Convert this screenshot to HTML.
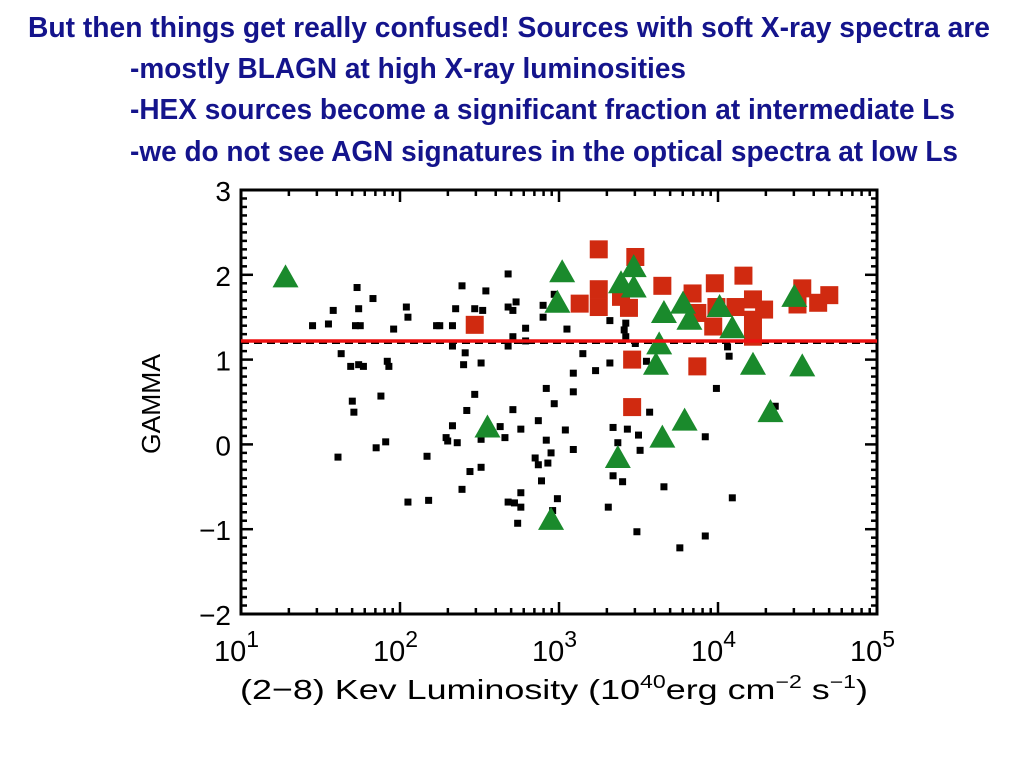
<!DOCTYPE html>
<html><head><meta charset="utf-8">
<style>
html,body{margin:0;padding:0;background:#fff;}
svg{display:block;}
</style></head>
<body>
<svg id="chart" width="1024" height="768" viewBox="0 0 1024 768" xmlns="http://www.w3.org/2000/svg">
  <g fill="#14148c" font-family="'Liberation Sans', Arial, sans-serif" font-weight="bold" font-size="29">
    <text x="28" y="37" textLength="962" lengthAdjust="spacingAndGlyphs">But then things get really confused!  Sources with soft X-ray spectra are</text>
    <text x="130" y="78" textLength="556" lengthAdjust="spacingAndGlyphs">-mostly BLAGN at high X-ray luminosities</text>
    <text x="130" y="119" textLength="825" lengthAdjust="spacingAndGlyphs">-HEX sources become a significant fraction at intermediate Ls</text>
    <text x="130" y="161" textLength="828" lengthAdjust="spacingAndGlyphs">-we do not see AGN signatures in the optical spectra at low Ls</text>
  </g>
  <g id="axes"></g>
  <g id="marks"></g>
  <text transform="translate(160,404) rotate(-90)" text-anchor="middle" font-family="'Liberation Sans', sans-serif" font-size="26" fill="#000" textLength="100" lengthAdjust="spacingAndGlyphs">GAMMA</text>
  <text x="240" y="699" font-family="'Liberation Sans', sans-serif" font-size="28" fill="#000" textLength="628" lengthAdjust="spacingAndGlyphs">(2−8) Kev Luminosity (10<tspan dy="-11" font-size="18">40</tspan><tspan dy="11">erg cm</tspan><tspan dy="-11" font-size="18">−2</tspan><tspan dy="11"> s</tspan><tspan dy="-11" font-size="18">−1</tspan><tspan dy="11">)</tspan></text>
</svg>
<script>
// data: log10 luminosity and gamma
const blackL = [1.73,1.83,1.58,1.74,1.45,1.55,1.72,1.75,1.96,2.04,2.05,2.39,2.54,2.68,2.35,2.47,2.52,2.23,2.25,2.33,2.68,2.73,2.71,2.90,2.90,2.79,2.71,2.79,2.68,2.33,1.63,1.69,1.74,1.77,1.92,1.93,2.41,2.40,2.51,2.92,2.97,2.47,2.42,2.71,2.33,2.63,2.76,2.87,3.04,1.70,1.71,1.88,2.29,2.30,2.36,2.51,2.66,2.92,1.91,1.85,1.61,2.17,2.85,2.87,2.93,2.95,2.89,2.51,2.44,2.39,2.76,2.05,2.18,2.68,2.72,2.76,2.99,2.74,2.96,2.97,3.05,3.32,3.42,3.41,3.42,3.48,3.15,3.32,3.23,3.09,3.09,3.55,3.99,4.07,4.06,3.57,3.34,3.43,3.50,3.37,3.51,3.09,3.92,3.34,3.40,3.66,4.09,3.31,3.49,3.76,3.92,4.36];
const blackG = [1.85,1.72,1.58,1.60,1.40,1.42,1.40,1.40,1.36,1.62,1.50,1.87,1.81,2.01,1.60,1.60,1.58,1.40,1.40,1.40,1.62,1.68,1.58,1.64,1.50,1.37,1.27,1.22,1.16,1.16,1.07,0.92,0.94,0.92,0.98,0.92,1.08,0.94,0.96,0.66,0.48,0.59,0.40,0.41,0.22,0.21,0.18,0.28,0.17,0.51,0.38,0.57,0.08,0.04,0.02,0.06,0.08,0.05,0.03,-0.04,-0.15,-0.14,-0.16,-0.24,-0.22,-0.10,-0.43,-0.27,-0.32,-0.53,-0.57,-0.68,-0.66,-0.68,-0.69,-0.74,-0.64,-0.93,-0.78,1.77,1.36,1.46,1.43,1.35,1.27,1.19,1.07,0.96,0.87,0.84,0.62,0.98,0.66,1.04,1.15,0.38,0.20,0.18,0.11,0.02,-0.07,-0.06,0.09,-0.37,-0.44,-0.50,-0.63,-0.74,-1.03,-1.22,-1.08,0.45];
const redL = [2.47,3.25,3.48,3.13,3.25,3.25,3.44,3.39,3.65,3.84,3.98,4.16,3.87,3.99,3.97,4.11,4.22,4.29,4.22,4.22,4.53,4.50,4.63,4.70,3.46,3.87,3.46];
const redG = [1.41,2.30,2.21,1.66,1.83,1.62,1.61,1.74,1.87,1.78,1.90,1.99,1.55,1.62,1.39,1.62,1.71,1.59,1.47,1.27,1.84,1.65,1.67,1.76,1.00,0.92,0.44];
const greenL = [1.28,3.02,2.99,2.55,2.95,3.47,3.39,3.47,3.66,3.78,3.82,4.01,4.09,4.48,3.63,3.61,4.22,4.53,4.33,3.79,3.65,3.37];
const greenG = [1.97,2.03,1.67,0.20,-0.89,2.09,1.90,1.85,1.55,1.66,1.47,1.62,1.37,1.74,1.18,0.94,0.94,0.92,0.38,0.28,0.08,-0.16];
const fitGamma = 1.22;
const xTickExps = [1,2,3,4,5];
const yTicks = [3,2,1,0,-1,-2];

const NS = "http://www.w3.org/2000/svg";
const X0 = 241, X1 = 877, Y0 = 190, Y1 = 614;
const xMin = 1, xMax = 5, yMin = -2, yMax = 3;
function xs(l){ return X0 + (l - xMin) / (xMax - xMin) * (X1 - X0); }
function ys(g){ return Y1 - (g - yMin) / (yMax - yMin) * (Y1 - Y0); }
function mk(tag, attrs, parent){ const e = document.createElementNS(NS, tag); for (const k in attrs) e.setAttribute(k, attrs[k]); parent.appendChild(e); return e; }

const axes = document.getElementById('axes');
const marks = document.getElementById('marks');

const frame = mk('rect', {x:X0, y:Y0, width:X1-X0, height:Y1-Y0, fill:'none', stroke:'#000', 'stroke-width':3}, axes);



for (let i = 0; i <= 50; i++) {
  const g = yMin + i * 0.1;
  const y = ys(g);
  const major = Math.abs(g - Math.round(g)) < 1e-6;
  const len = major ? 12 : 6;
  const t1 = mk('line', {x1:X0, x2:X0+len, y1:y, y2:y, stroke:'#000', 'stroke-width':2.5}, axes);
  
  
  const t2 = mk('line', {x1:X1, x2:X1-len, y1:y, y2:y, stroke:'#000', 'stroke-width':2.5}, axes);
  
  
}
yTicks.forEach(v => {
  const t = mk('text', {x:231, y:ys(v)+11, 'text-anchor':'end', 'font-family':"'Liberation Sans', sans-serif", 'font-size':28, fill:'#000'}, axes);
  t.textContent = v < 0 ? '−' + Math.abs(v) : String(v);
  
  
});

for (let d = xMin; d < xMax; d++) {
  for (let m = 1; m <= 9; m++) {
    const l = d + Math.log10(m);
    const x = xs(l);
    const len = m === 1 ? 12 : 6;
    const a = mk('line', {x1:x, x2:x, y1:Y1, y2:Y1-len, stroke:'#000', 'stroke-width':2.5}, axes);
    
    
    const b = mk('line', {x1:x, x2:x, y1:Y0, y2:Y0+len, stroke:'#000', 'stroke-width':2.5}, axes);
    
    
  }
}
xTickExps.forEach(e => {
  const t = mk('text', {x:xs(e)-27, y:661, 'font-family':"'Liberation Sans', sans-serif", 'font-size':29, fill:'#000'}, axes);
  t.textContent = '10';
  const s = mk('tspan', {dy:-14, 'font-size':23}, t);
  s.textContent = String(e);
  
  
});

const dl = mk('line', {x1:X0, x2:X1, y1:ys(fitGamma)+2, y2:ys(fitGamma)+2, stroke:'#000', 'stroke-width':2, 'stroke-dasharray':'8,5'}, marks);



blackL.forEach((l, i) => {
  const s = mk('rect', {x:xs(l)-3.5, y:ys(blackG[i])-3.5, width:7, height:7, fill:'#000'}, marks);
  
  
});
redL.forEach((l, i) => {
  const s = mk('rect', {x:xs(l)-9, y:ys(redG[i])-9, width:18, height:18, fill:'#d02a10'}, marks);
  
  
});
greenL.forEach((l, i) => {
  const x = xs(l), y = ys(greenG[i]);
  const p = mk('polygon', {points:`${x},${y-13} ${x-13},${y+10} ${x+13},${y+10}`, fill:'#1a8a2c'}, marks);
  
  
});

const rl = mk('line', {x1:X0, x2:X1, y1:ys(fitGamma), y2:ys(fitGamma), stroke:'#ee1111', 'stroke-width':3.5}, marks);


</script>
</body></html>
